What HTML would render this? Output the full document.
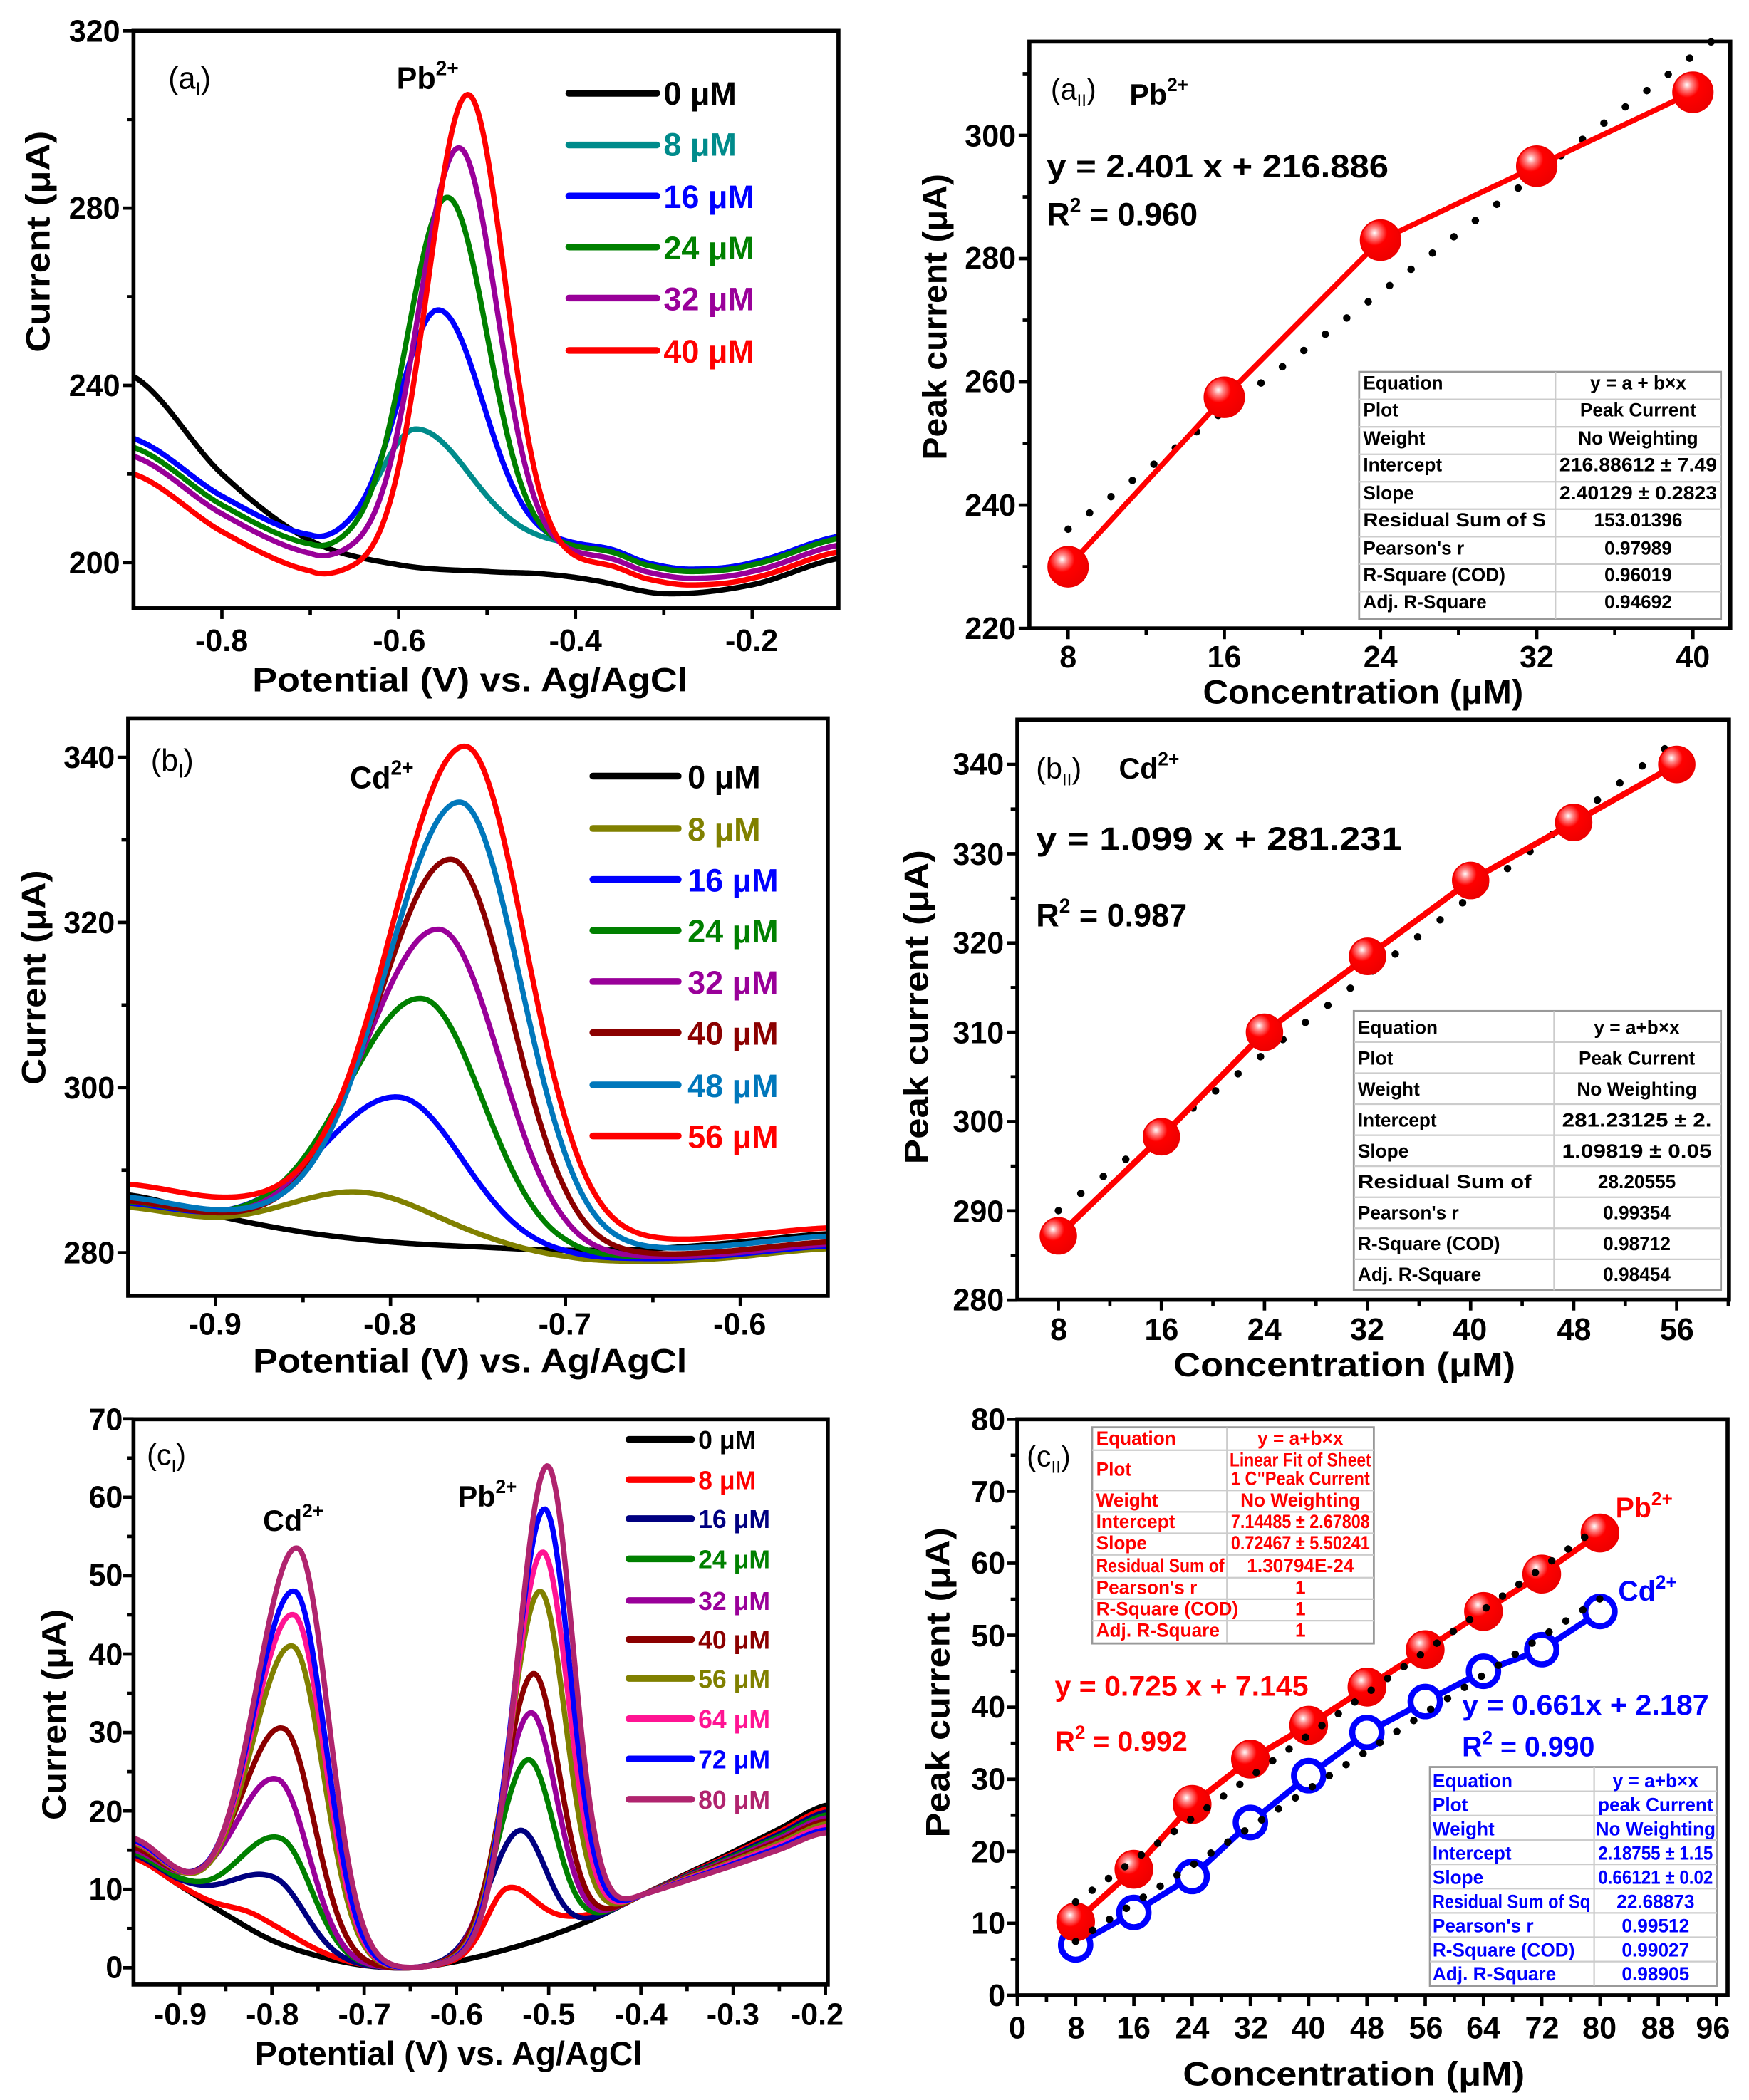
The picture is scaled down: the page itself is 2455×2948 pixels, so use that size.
<!DOCTYPE html>
<html><head><meta charset="utf-8"><style>
html,body{margin:0;padding:0;background:#fff}
svg{display:block}
text{font-family:"Liberation Sans",Arial,sans-serif;font-weight:bold}
.tk{font-size:23px}
.tt{font-size:25px}
.tb text{font-size:14px}
</style></head><body>
<svg id="s" xmlns="http://www.w3.org/2000/svg" width="2455" height="2948" viewBox="0 0 1310 1564" preserveAspectRatio="none">
<defs>
<radialGradient id="ball" cx="0.35" cy="0.32" r="0.7">
<stop offset="0" stop-color="#fff"/><stop offset="0.18" stop-color="#f88"/><stop offset="0.45" stop-color="#f00"/><stop offset="1" stop-color="#e00"/>
</radialGradient>
<clipPath id="caI"><rect x="100" y="23" width="528" height="430"/></clipPath>
<clipPath id="cbI"><rect x="96" y="535" width="524" height="430"/></clipPath>
<clipPath id="ccI"><rect x="100" y="1057" width="520" height="421"/></clipPath>
</defs>
<rect width="1310" height="1564" fill="#fff"/>
<g id="curves"></g>
<g id="ticks" stroke="#000" stroke-width="2.5" fill="none"></g>
<g id="fits"></g>

<g fill="none" stroke="#000" stroke-width="3">
<rect x="100" y="23" width="528" height="430"/>
<rect x="771" y="31" width="525" height="437"/>
<rect x="96" y="535" width="524" height="430"/>
<rect x="762" y="536" width="533" height="432"/>
<rect x="100" y="1057" width="520" height="421"/>
<rect x="762" y="1057" width="532" height="429"/>
</g>

<g class="tk" text-anchor="end">
<text x="90" y="427">200</text><text x="90" y="295">240</text><text x="90" y="163">280</text><text x="90" y="31">320</text>
</g>
<g class="tk" text-anchor="middle">
<text x="166" y="485">-0.8</text><text x="299" y="485">-0.6</text><text x="431" y="485">-0.4</text><text x="563" y="485">-0.2</text>
</g>
<text class="tt" x="352" y="515" text-anchor="middle" textLength="326" lengthAdjust="spacingAndGlyphs">Potential (V) vs. Ag/AgCl</text>
<text class="tt" transform="translate(37,180) rotate(-90)" text-anchor="middle" textLength="165" lengthAdjust="spacingAndGlyphs">Current (μA)</text>
<text x="126" y="66" style="font-size:23px;font-weight:normal">(a<tspan font-size="14" dy="5">I</tspan><tspan dy="-5">)</tspan></text>
<text x="297" y="66" style="font-size:23px">Pb<tspan font-size="15" dy="-10">2+</tspan></text>
<g style="font-size:24px">
<text x="497" y="78" fill="#000">0 μM</text>
<text x="497" y="116" fill="#008B8B">8 μM</text>
<text x="497" y="155" fill="#0000FF">16 μM</text>
<text x="497" y="193" fill="#008000">24 μM</text>
<text x="497" y="231" fill="#990099">32 μM</text>
<text x="497" y="270" fill="#FF0000">40 μM</text>
</g>

<g class="tk" text-anchor="end">
<text x="86" y="941">280</text><text x="86" y="818">300</text><text x="86" y="695">320</text><text x="86" y="572">340</text>
</g>
<g class="tk" text-anchor="middle">
<text x="161" y="994">-0.9</text><text x="292" y="994">-0.8</text><text x="423" y="994">-0.7</text><text x="554" y="994">-0.6</text>
</g>
<text class="tt" x="352" y="1022" text-anchor="middle" textLength="325" lengthAdjust="spacingAndGlyphs">Potential (V) vs. Ag/AgCl</text>
<text class="tt" transform="translate(34,728) rotate(-90)" text-anchor="middle" textLength="160" lengthAdjust="spacingAndGlyphs">Current (μA)</text>
<text x="113" y="574" style="font-size:23px;font-weight:normal">(b<tspan font-size="14" dy="5">I</tspan><tspan dy="-5">)</tspan></text>
<text x="262" y="587" style="font-size:23px">Cd<tspan font-size="15" dy="-10">2+</tspan></text>
<g style="font-size:24px">
<text x="515" y="587" fill="#000">0 μM</text>
<text x="515" y="626" fill="#808000">8 μM</text>
<text x="515" y="664" fill="#0000FF">16 μM</text>
<text x="515" y="702" fill="#008000">24 μM</text>
<text x="515" y="740" fill="#990099">32 μM</text>
<text x="515" y="778" fill="#8B0000">40 μM</text>
<text x="515" y="817" fill="#0077BB">48 μM</text>
<text x="515" y="855" fill="#FF0000">56 μM</text>
</g>

<g class="tk" text-anchor="end">
<text x="92" y="1473">0</text><text x="92" y="1415">10</text><text x="92" y="1357">20</text><text x="92" y="1298">30</text><text x="92" y="1240">40</text><text x="92" y="1181">50</text><text x="92" y="1123">60</text><text x="92" y="1065">70</text>
</g>
<g class="tk" text-anchor="middle">
<text x="135" y="1508">-0.9</text><text x="204" y="1508">-0.8</text><text x="273" y="1508">-0.7</text><text x="342" y="1508">-0.6</text><text x="411" y="1508">-0.5</text><text x="480" y="1508">-0.4</text><text x="549" y="1508">-0.3</text><text x="612" y="1508">-0.2</text>
</g>
<text class="tt" x="336" y="1538" text-anchor="middle" textLength="290" lengthAdjust="spacingAndGlyphs">Potential (V) vs. Ag/AgCl</text>
<text class="tt" transform="translate(49,1277) rotate(-90)" text-anchor="middle" textLength="157" lengthAdjust="spacingAndGlyphs">Current (μA)</text>
<text x="110" y="1091" style="font-size:22px;font-weight:normal">(c<tspan font-size="13" dy="5">I</tspan><tspan dy="-5">)</tspan></text>
<text x="197" y="1140" style="font-size:22px">Cd<tspan font-size="14" dy="-10">2+</tspan></text>
<text x="343" y="1122" style="font-size:22px">Pb<tspan font-size="14" dy="-10">2+</tspan></text>
<g style="font-size:19px">
<text x="523" y="1079" fill="#000">0 μM</text>
<text x="523" y="1109" fill="#FF0000">8 μM</text>
<text x="523" y="1138" fill="#000080">16 μM</text>
<text x="523" y="1168" fill="#008000">24 μM</text>
<text x="523" y="1199" fill="#990099">32 μM</text>
<text x="523" y="1228" fill="#8B0000">40 μM</text>
<text x="523" y="1257" fill="#808000">56 μM</text>
<text x="523" y="1287" fill="#FF1493">64 μM</text>
<text x="523" y="1317" fill="#0000FF">72 μM</text>
<text x="523" y="1347" fill="#B0246E">80 μM</text>
</g>

<g class="tk" text-anchor="end">
<text x="761" y="476">220</text><text x="761" y="384">240</text><text x="761" y="292">260</text><text x="761" y="200">280</text><text x="761" y="109">300</text>
</g>
<g class="tk" text-anchor="middle">
<text x="800" y="497">8</text><text x="917" y="497">16</text><text x="1034" y="497">24</text><text x="1151" y="497">32</text><text x="1268" y="497">40</text>
</g>
<text class="tt" x="1021" y="524" text-anchor="middle" textLength="240" lengthAdjust="spacingAndGlyphs">Concentration (μM)</text>
<text class="tt" transform="translate(709,236) rotate(-90)" text-anchor="middle" textLength="213" lengthAdjust="spacingAndGlyphs">Peak current (μA)</text>
<text x="787" y="74" style="font-size:22px;font-weight:normal">(a<tspan font-size="13" dy="5">II</tspan><tspan dy="-5">)</tspan></text>
<text x="846" y="78" style="font-size:22px">Pb<tspan font-size="14" dy="-10">2+</tspan></text>
<text x="784" y="132" style="font-size:24px" textLength="256" lengthAdjust="spacingAndGlyphs">y = 2.401 x + 216.886</text>
<text x="784" y="168" style="font-size:24px">R<tspan font-size="15" dy="-10">2</tspan><tspan dy="10"> = 0.960</tspan></text>

<g class="tk" text-anchor="end">
<text x="752" y="976">280</text><text x="752" y="910">290</text><text x="752" y="843">300</text><text x="752" y="777">310</text><text x="752" y="710">320</text><text x="752" y="644">330</text><text x="752" y="577">340</text>
</g>
<g class="tk" text-anchor="middle">
<text x="793" y="998">8</text><text x="870" y="998">16</text><text x="947" y="998">24</text><text x="1024" y="998">32</text><text x="1101" y="998">40</text><text x="1179" y="998">48</text><text x="1256" y="998">56</text>
</g>
<text class="tt" x="1007" y="1025" text-anchor="middle" textLength="256" lengthAdjust="spacingAndGlyphs">Concentration (μM)</text>
<text class="tt" transform="translate(695,750) rotate(-90)" text-anchor="middle" textLength="234" lengthAdjust="spacingAndGlyphs">Peak current (μA)</text>
<text x="776" y="580" style="font-size:22px;font-weight:normal">(b<tspan font-size="13" dy="5">II</tspan><tspan dy="-5">)</tspan></text>
<text x="838" y="580" style="font-size:22px">Cd<tspan font-size="14" dy="-10">2+</tspan></text>
<text x="776" y="633" style="font-size:24px" textLength="274" lengthAdjust="spacingAndGlyphs">y = 1.099 x + 281.231</text>
<text x="776" y="690" style="font-size:24px">R<tspan font-size="15" dy="-10">2</tspan><tspan dy="10"> = 0.987</tspan></text>

<g class="tk" text-anchor="end">
<text x="753" y="1494">0</text><text x="753" y="1440">10</text><text x="753" y="1387">20</text><text x="753" y="1333">30</text><text x="753" y="1279">40</text><text x="753" y="1226">50</text><text x="753" y="1172">60</text><text x="753" y="1119">70</text><text x="753" y="1065">80</text>
</g>
<g class="tk" text-anchor="middle">
<text x="762" y="1518">0</text><text x="806" y="1518">8</text><text x="849" y="1518">16</text><text x="893" y="1518">24</text><text x="937" y="1518">32</text><text x="980" y="1518">40</text><text x="1024" y="1518">48</text><text x="1068" y="1518">56</text><text x="1111" y="1518">64</text><text x="1155" y="1518">72</text><text x="1198" y="1518">80</text><text x="1242" y="1518">88</text><text x="1283" y="1518">96</text>
</g>
<text class="tt" x="1014" y="1553" text-anchor="middle" textLength="256" lengthAdjust="spacingAndGlyphs">Concentration (μM)</text>
<text class="tt" transform="translate(711,1253) rotate(-90)" text-anchor="middle" textLength="231" lengthAdjust="spacingAndGlyphs">Peak current (μA)</text>
<text x="769" y="1092" style="font-size:22px;font-weight:normal">(c<tspan font-size="13" dy="5">II</tspan><tspan dy="-5">)</tspan></text>
<text x="1210" y="1130" fill="#FF0000" style="font-size:21px">Pb<tspan font-size="14" dy="-9">2+</tspan></text>
<text x="1212" y="1192" fill="#0000FF" style="font-size:21px">Cd<tspan font-size="14" dy="-9">2+</tspan></text>
<text x="790" y="1263" fill="#FF0000" style="font-size:21px" textLength="190" lengthAdjust="spacingAndGlyphs">y = 0.725 x + 7.145</text>
<text x="790" y="1304" fill="#FF0000" style="font-size:21px">R<tspan font-size="14" dy="-9">2</tspan><tspan dy="9"> = 0.992</tspan></text>
<text x="1095" y="1277" fill="#0000FF" style="font-size:21px" textLength="185" lengthAdjust="spacingAndGlyphs">y = 0.661x + 2.187</text>
<text x="1095" y="1308" fill="#0000FF" style="font-size:21px">R<tspan font-size="14" dy="-9">2</tspan><tspan dy="9"> = 0.990</tspan></text>

<g id="tabs"></g>
<g class="tb">
<g style="font-size:14px">
<text x="1021" y="290">Equation</text><text x="1227" y="290" text-anchor="middle">y = a + b×x</text>
<text x="1021" y="310">Plot</text><text x="1227" y="310" text-anchor="middle">Peak Current</text>
<text x="1021" y="331">Weight</text><text x="1227" y="331" text-anchor="middle">No Weighting</text>
<text x="1021" y="351">Intercept</text><text x="1227" y="351" text-anchor="middle" textLength="118" lengthAdjust="spacingAndGlyphs">216.88612 ± 7.49</text>
<text x="1021" y="372">Slope</text><text x="1227" y="372" text-anchor="middle" textLength="118" lengthAdjust="spacingAndGlyphs">2.40129 ± 0.2823</text>
<text x="1021" y="392" textLength="137" lengthAdjust="spacingAndGlyphs">Residual Sum of S</text><text x="1227" y="392" text-anchor="middle">153.01396</text>
<text x="1021" y="413">Pearson's r</text><text x="1227" y="413" text-anchor="middle">0.97989</text>
<text x="1021" y="433">R-Square (COD)</text><text x="1227" y="433" text-anchor="middle">0.96019</text>
<text x="1021" y="453">Adj. R-Square</text><text x="1227" y="453" text-anchor="middle">0.94692</text>
</g>
<g style="font-size:15px">
<text x="1017" y="770">Equation</text><text x="1226" y="770" text-anchor="middle">y = a+b×x</text>
<text x="1017" y="793">Plot</text><text x="1226" y="793" text-anchor="middle">Peak Current</text>
<text x="1017" y="816">Weight</text><text x="1226" y="816" text-anchor="middle">No Weighting</text>
<text x="1017" y="839">Intercept</text><text x="1226" y="839" text-anchor="middle" textLength="112" lengthAdjust="spacingAndGlyphs">281.23125 ± 2.</text>
<text x="1017" y="862">Slope</text><text x="1226" y="862" text-anchor="middle" textLength="112" lengthAdjust="spacingAndGlyphs">1.09819 ± 0.05</text>
<text x="1017" y="885" textLength="130" lengthAdjust="spacingAndGlyphs">Residual Sum of</text><text x="1226" y="885" text-anchor="middle">28.20555</text>
<text x="1017" y="908">Pearson's r</text><text x="1226" y="908" text-anchor="middle">0.99354</text>
<text x="1017" y="931">R-Square (COD)</text><text x="1226" y="931" text-anchor="middle">0.98712</text>
<text x="1017" y="954">Adj. R-Square</text><text x="1226" y="954" text-anchor="middle">0.98454</text>
</g>
<g style="font-size:11px" fill="#FF0000">
<text x="821" y="1076">Equation</text><text x="974" y="1076" text-anchor="middle">y = a+b×x</text>
<text x="821" y="1099">Plot</text><text x="974" y="1092" text-anchor="middle" textLength="106" lengthAdjust="spacingAndGlyphs">Linear Fit of Sheet</text><text x="974" y="1106" text-anchor="middle" textLength="104" lengthAdjust="spacingAndGlyphs">1 C"Peak Current</text>
<text x="821" y="1122">Weight</text><text x="974" y="1122" text-anchor="middle">No Weighting</text>
<text x="821" y="1138">Intercept</text><text x="974" y="1138" text-anchor="middle" textLength="104" lengthAdjust="spacingAndGlyphs">7.14485 ± 2.67808</text>
<text x="821" y="1154">Slope</text><text x="974" y="1154" text-anchor="middle" textLength="104" lengthAdjust="spacingAndGlyphs">0.72467 ± 5.50241</text>
<text x="821" y="1171" textLength="96" lengthAdjust="spacingAndGlyphs">Residual Sum of</text><text x="974" y="1171" text-anchor="middle">1.30794E-24</text>
<text x="821" y="1187">Pearson's r</text><text x="974" y="1187" text-anchor="middle">1</text>
<text x="821" y="1203">R-Square (COD)</text><text x="974" y="1203" text-anchor="middle">1</text>
<text x="821" y="1219">Adj. R-Square</text><text x="974" y="1219" text-anchor="middle">1</text>
</g>
<g style="font-size:12px" fill="#0000FF">
<text x="1073" y="1331">Equation</text><text x="1240" y="1331" text-anchor="middle">y = a+b×x</text>
<text x="1073" y="1349">Plot</text><text x="1240" y="1349" text-anchor="middle">peak Current</text>
<text x="1073" y="1367">Weight</text><text x="1240" y="1367" text-anchor="middle">No Weighting</text>
<text x="1073" y="1385">Intercept</text><text x="1240" y="1385" text-anchor="middle" textLength="86" lengthAdjust="spacingAndGlyphs">2.18755 ± 1.15</text>
<text x="1073" y="1403">Slope</text><text x="1240" y="1403" text-anchor="middle" textLength="86" lengthAdjust="spacingAndGlyphs">0.66121 ± 0.02</text>
<text x="1073" y="1421" textLength="118" lengthAdjust="spacingAndGlyphs">Residual Sum of Sq</text><text x="1240" y="1421" text-anchor="middle">22.68873</text>
<text x="1073" y="1439">Pearson's r</text><text x="1240" y="1439" text-anchor="middle">0.99512</text>
<text x="1073" y="1457">R-Square (COD)</text><text x="1240" y="1457" text-anchor="middle">0.99027</text>
<text x="1073" y="1475">Adj. R-Square</text><text x="1240" y="1475" text-anchor="middle">0.98905</text>
</g>
</g>
</svg>
<script>
(function(){
var NS="http://www.w3.org/2000/svg";
function el(parent,tag,attrs){var e=document.createElementNS(NS,tag);for(var k in attrs)e.setAttribute(k,attrs[k]);parent.appendChild(e);return e;}
function cr(p,x){
 if(x<=p[0][0])return p[0][1];
 if(x>=p[p.length-1][0])return p[p.length-1][1];
 var i=0;while(i<p.length-2&&x>p[i+1][0])i++;
 var p0=p[i-1]||p[i],p1=p[i],p2=p[i+1],p3=p[i+2]||p[i+1];
 var t=(x-p1[0])/(p2[0]-p1[0]),t2=t*t,t3=t2*t;
 return 0.5*((2*p1[1])+(-p0[1]+p2[1])*t+(2*p0[1]-5*p1[1]+4*p2[1]-p3[1])*t2+(-p0[1]+3*p1[1]-3*p2[1]+p3[1])*t3);
}
function g(x,c,A,sl,sr){var s=x<c?sl:sr;return A*Math.exp(-(x-c)*(x-c)/(2*s*s));}
function sig(z){return 1/(1+Math.exp(-z));}
var C=document.getElementById("curves"),T=document.getElementById("ticks"),F=document.getElementById("fits"),TB=document.getElementById("tabs");
function path(parent,f,x0,x1,X,Y,color,w,clip){
 var d="",n=400;for(var i=0;i<=n;i++){var x=x0+(x1-x0)*i/n;d+=(i?"L":"M")+X(x).toFixed(2)+","+Y(f(x)).toFixed(2);}
 var a={d:d,fill:"none",stroke:color,"stroke-width":w,"stroke-linejoin":"round","stroke-linecap":"round"};if(clip)a["clip-path"]="url(#"+clip+")";
 el(parent,"path",a);
}
function tick(x1,y1,x2,y2){el(T,"line",{x1:x1,y1:y1,x2:x2,y2:y2});}
function xt(X,vals,y,len){vals.forEach(function(v){tick(X(v),y,X(v),y+len);});}
function yt(Y,vals,x,len){vals.forEach(function(v){tick(x,Y(v),x-len,Y(v));});}
function rng(a,b,s){var r=[];for(var v=a;v<=b+1e-9;v+=s)r.push(+v.toFixed(6));return r;}

var XaI=function(v){return 100+(v+0.9)*662;},YaI=function(v){return 23+(320-v)*3.3;};
var bk=[[-0.9,242],[-0.8,220],[-0.7,205],[-0.6,199.5],[-0.5,198],[-0.44,197.5],[-0.38,196],[-0.3,193],[-0.2,195],[-0.1,201]];
path(C,function(x){return cr(bk,x);},-0.9,-0.1,XaI,YaI,"#000",4,"caI");
var ba=[[-0.9,228],[-0.8,215],[-0.7,206],[-0.65,205.5],[-0.55,205],[-0.45,204.5],[-0.4,204],[-0.36,203],[-0.32,200],[-0.27,198.5],[-0.2,200],[-0.1,206]];
var aS=[["#008B8B",0,0,-0.58,25,0.04,0.06],["#0000FF",0,0,-0.555,52,0.045,0.05],["#008000",-2,-0.5,-0.545,79,0.045,0.045],["#990099",-4,-2,-0.532,92,0.045,0.043],["#FF0000",-8,-3.5,-0.522,107,0.045,0.042]];
aS.forEach(function(s){path(C,function(x){return cr(ba,x)+s[1]+(s[2]-s[1])*sig((x+0.5)/0.05)+g(x,s[3],s[4],s[5],s[6]);},-0.9,-0.1,XaI,YaI,s[0],4,"caI");});
yt(YaI,[200,240,280,320],100,8);yt(YaI,[220,260,300],100,5);
xt(XaI,[-0.8,-0.6,-0.4,-0.2],453,8);xt(XaI,[-0.7,-0.5,-0.3],453,5);
[["#000",69.5],["#008B8B",108],["#0000FF",146],["#008000",184],["#990099",222],["#FF0000",261]].forEach(function(l){el(C,"line",{x1:426,y1:l[1],x2:492,y2:l[1],stroke:l[0],"stroke-width":5,"stroke-linecap":"round"});});

var XbI=function(v){return 96+(v+0.95)*1310;},YbI=function(v){return 564+(340-v)*6.15;};
var bkb=[[-0.95,287],[-0.9,284.5],[-0.85,282.5],[-0.8,281.3],[-0.75,280.7],[-0.7,280.3],[-0.65,280.5],[-0.6,281.3],[-0.55,282.3]];
path(C,function(x){return cr(bkb,x);},-0.95,-0.55,XbI,YbI,"#000",4,"cbI");
var bb=[[-0.95,285.5],[-0.9,283.8],[-0.85,283],[-0.8,282],[-0.75,281],[-0.7,279.5],[-0.67,279],[-0.62,279.2],[-0.55,280.5]];
var bS=[["#808000",0,0,-0.815,5,0.04,0.04],["#0000FF",0.5,0.3,-0.795,16.5,0.042,0.035],["#008000",0.7,0.5,-0.782,28.5,0.042,0.034],["#990099",0.8,0.5,-0.772,37,0.042,0.034],["#8B0000",0.8,0.8,-0.765,45.5,0.042,0.034],["#0077BB",1.2,1.5,-0.76,52,0.042,0.034],["#FF0000",2.8,2.5,-0.757,57.5,0.042,0.034]];
bS.forEach(function(s){path(C,function(x){return cr(bb,x)+s[1]+(s[2]-s[1])*sig((x+0.75)/0.05)+g(x,s[3],s[4],s[5],s[6]);},-0.95,-0.55,XbI,YbI,s[0],4,"cbI");});
yt(YbI,[280,300,320,340],96,8);yt(YbI,[290,310,330],96,5);
xt(XbI,[-0.9,-0.8,-0.7,-0.6],965,8);xt(XbI,[-0.85,-0.75,-0.65],965,5);
[["#000",578],["#808000",617],["#0000FF",655],["#008000",693],["#990099",731],["#8B0000",769],["#0077BB",808],["#FF0000",846]].forEach(function(l){el(C,"line",{x1:444,y1:l[1],x2:508,y2:l[1],stroke:l[0],"stroke-width":5,"stroke-linecap":"round"});});

var XcI=function(v){return 100+(v+0.95)*691;},YcI=function(v){return 1465.5-v*5.84;};
var bkc=[[-0.95,14],[-0.9,10.5],[-0.85,6.8],[-0.8,3.5],[-0.75,1.5],[-0.7,0.3],[-0.65,0],[-0.6,0.8],[-0.55,2.2],[-0.5,4],[-0.45,6.3],[-0.4,9.2],[-0.35,12],[-0.3,14.8],[-0.25,17.7],[-0.2,20.7]];
function bc(x){return cr(bkc,x);}
path(C,bc,-0.95,-0.2,XcI,YcI,"#000",4,"ccI");
var cS=[["#FF0000",-0.81,7,-0.545,10],["#000080",-0.797,11.5,-0.532,17.5],["#008000",-0.79,16.5,-0.523,26.5],["#990099",-0.793,24,-0.52,32.5],["#8B0000",-0.787,30.5,-0.517,37.5],["#808000",-0.777,41,-0.51,48],["#FF1493",-0.776,45,-0.507,53],["#0000FF",-0.775,48,-0.505,58.5],["#B0246E",-0.772,53.5,-0.502,64]];
cS.forEach(function(s,i){
 var Ac=s[2]-bc(s[1]),Ap=s[4]-bc(s[3]),first=(i==0);
 var k=0.5+3*i/8,lk=2.5*Math.min(1,Ac/51);
 path(C,function(x){
  var y=bc(x);
  if(first){y+=g(x,-0.815,2.2,0.03,0.045)+g(x,-0.545,7.7,0.022,0.03)+g(x,-0.48,1.0,0.03,0.03);}
  else{y+=g(x,s[1],Ac,0.045,0.033)+g(x,s[3],Ap,0.032,0.028)+lk*Math.exp(-(x+0.95)*(x+0.95)/(2*0.04*0.04));}
  if(x>-0.4)y-=k*(x+0.4)/0.2;
  return y;},-0.95,-0.2,XcI,YcI,s[0],4,"ccI");
});
yt(YcI,rng(0,70,10),100,8);yt(YcI,rng(5,65,10),100,5);
xt(XcI,rng(-0.9,-0.2,0.1),1478,8);xt(XcI,rng(-0.85,-0.25,0.1),1478,5);
[["#000",1072],["#FF0000",1102],["#000080",1131],["#008000",1161],["#990099",1192],["#8B0000",1221],["#808000",1250],["#FF1493",1280],["#0000FF",1310],["#B0246E",1340]].forEach(function(l){el(C,"line",{x1:471,y1:l[1],x2:518,y2:l[1],stroke:l[0],"stroke-width":5,"stroke-linecap":"round"});});

function dots(X,Y,x0,x1,a,b,gap){el(F,"line",{x1:X(x0),y1:Y(a+b*x0),x2:X(x1),y2:Y(a+b*x1),stroke:"#000","stroke-width":5.5,"stroke-dasharray":"0.1 "+gap,"stroke-linecap":"round"});}
function poly(X,Y,d,color,w){el(F,"polyline",{points:d.map(function(p){return X(p[0])+","+Y(p[1]);}).join(" "),fill:"none",stroke:color,"stroke-width":w,"stroke-linejoin":"round"});}
function balls(X,Y,d,r){d.forEach(function(p){el(F,"circle",{cx:X(p[0]),cy:Y(p[1]),r:r,fill:"url(#ball)",stroke:"#e00","stroke-width":1});});}
function table(x0,y0,x1,y1,split,n,extra){
 el(TB,"rect",{x:x0,y:y0,width:x1-x0,height:y1-y0,fill:"#fff",stroke:"#999","stroke-width":1.5});
 el(TB,"line",{x1:split,y1:y0,x2:split,y2:y1,stroke:"#ccc","stroke-width":1.2});
 var ys=extra||rng(0,n,1).map(function(i){return y0+(y1-y0)*i/n;});
 ys.slice(1,-1).forEach(function(y){el(TB,"line",{x1:x0,y1:y,x2:x1,y2:y,stroke:"#ccc","stroke-width":1.2});});
}
var XaII=function(v){return 800+(v-8)*14.625;},YaII=function(v){return 468-(v-220)*4.59;};
yt(YaII,[220,240,260,280,300],771,8);yt(YaII,[230,250,270,290,310],771,5);
xt(XaII,[8,16,24,32,40],468,8);xt(XaII,[12,20,28,36],468,5);
var da=[[8,230],[16,257.5],[24,283],[32,295],[40,307]];
dots(XaII,YaII,8,41,216.886,2.401,20);
poly(XaII,YaII,da,"#FF0000",4);balls(XaII,YaII,da,15);
table(1018,277,1289,461,1165,9);
var XbII=function(v){return 792.7+(v-8)*9.65;},YbII=function(v){return 968.3-(v-280)*6.65;};
yt(YbII,rng(280,340,10),762,8);yt(YbII,rng(285,335,10),762,5);
xt(XbII,rng(8,56,8),968,8);xt(XbII,rng(12,60,8),968,5);
var db=[[8,287.2],[16,298.3],[24,310],[32,318.5],[40,327],[48,333.5],[56,340]];
dots(XbII,YbII,8,56.5,281.231,1.099,21);
poly(XbII,YbII,db,"#FF0000",4.5);balls(XbII,YbII,db,13.5);
table(1014,753,1289,961,1164,9);
var XcII=function(v){return 762+v*5.455;},YcII=function(v){return 1486-v*5.3625;};
yt(YcII,rng(0,80,10),762,8);yt(YcII,rng(5,75,10),762,5);
xt(XcII,rng(0,96,8),1486,8);xt(XcII,rng(4,92,8),1486,5);
var pb=[[8,10.2],[16,17.5],[24,26.5],[32,32.8],[40,37.5],[48,42.8],[56,48],[64,53.3],[72,58.5],[80,64.2]];
var cd=[[8,7],[16,11.5],[24,16.5],[32,24],[40,30.5],[48,36.5],[56,40.8],[64,45],[72,48],[80,53.3]];
poly(XcII,YcII,cd,"#0000FF",4.5);
cd.forEach(function(p){el(F,"circle",{cx:XcII(p[0]),cy:YcII(p[1]),r:11,fill:"#fff",stroke:"#0000FF","stroke-width":4.5});});
poly(XcII,YcII,pb,"#FF0000",4.5);balls(XcII,YcII,pb,14);
dots(XcII,YcII,8,80,7.145,0.725,15);
dots(XcII,YcII,8,80,2.187,0.661,15);
table(818,1063,1029,1224,919,9,[1063,1080,1110,1126,1142,1158,1175,1191,1207,1224]);
table(1071,1316,1286,1479,1194,9);
})();
</script>
</body></html>
